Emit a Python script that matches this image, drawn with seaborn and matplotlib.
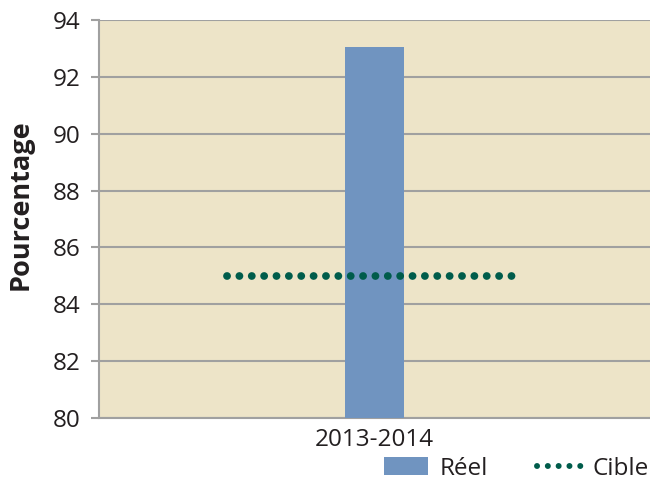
import matplotlib
matplotlib.use("Agg")
import matplotlib.pyplot as plt
import seaborn as sns
import pandas as pd
from matplotlib.patches import Patch
from matplotlib.lines import Line2D

# Data
periods = ["2013-2014"]
actual = [93.05]
target = [85]
yticks = [80, 82, 84, 86, 88, 90, 92, 94]

bar_color = "#7094C0"
dot_color = "#005C4B"
bg_color = "#EDE4C8"
grid_color = "#A0A0A0"
text_color = "#231F20"

sns.set_theme(style="white")
plt.rcParams["font.family"] = ["Open Sans", "DejaVu Sans"]

fig = plt.figure(figsize=(6.5, 4.82), dpi=100)
ax = fig.add_axes([0.152, 0.133, 0.848, 0.8255])
ax.set_facecolor(bg_color)

df = pd.DataFrame({"Période": periods, "Réel": actual})
sns.barplot(data=df, x="Période", y="Réel", color=bar_color, width=0.107,
            saturation=1, linewidth=0, ax=ax, zorder=3)

# Target as a dotted line across the category
for i, t in enumerate(target):
    ax.plot([i - 0.268, i + 0.263], [t, t], color=dot_color, linewidth=5.6,
            linestyle=(0, (0.01, 1.58)), dash_capstyle="round", zorder=4)

ax.set_xlim(-0.5, 0.5)
ax.set_ylim(80, 94)
ax.set_yticks(yticks)
ax.set_yticklabels([str(v) for v in yticks], fontsize=17.5, color=text_color)
ax.tick_params(axis="y", length=6, width=1.5, color=grid_color, pad=7, left=True)
ax.tick_params(axis="x", length=0, labelsize=17.5, labelcolor=text_color, pad=7)
ax.yaxis.grid(True, color=grid_color, linewidth=1.5, zorder=1)
ax.set_axisbelow(True)

for side in ["top", "right"]:
    ax.spines[side].set_visible(False)
for side in ["left", "bottom"]:
    ax.spines[side].set_color(grid_color)
    ax.spines[side].set_linewidth(1.5)

ax.set_xlabel("")
ax.set_ylabel("Pourcentage", fontsize=19.5, fontweight="bold", color=text_color)
ax.yaxis.set_label_coords(-0.118, 0.535)

handles = [
    Patch(facecolor=bar_color, edgecolor="none", label="Réel"),
    Line2D([0], [0], color=dot_color, linewidth=4.3, linestyle=(0, (0.01, 1.8)),
           dash_capstyle="round", label="Cible"),
]
fig.legend(handles=handles, loc="lower right", bbox_to_anchor=(1.032, -0.043), ncol=2,
           frameon=False, fontsize=17.5, handlelength=1.8, handleheight=0.75,
           columnspacing=2.0, handletextpad=0.5, labelcolor=text_color)

fig.savefig("out.png", dpi=100, facecolor="white")
